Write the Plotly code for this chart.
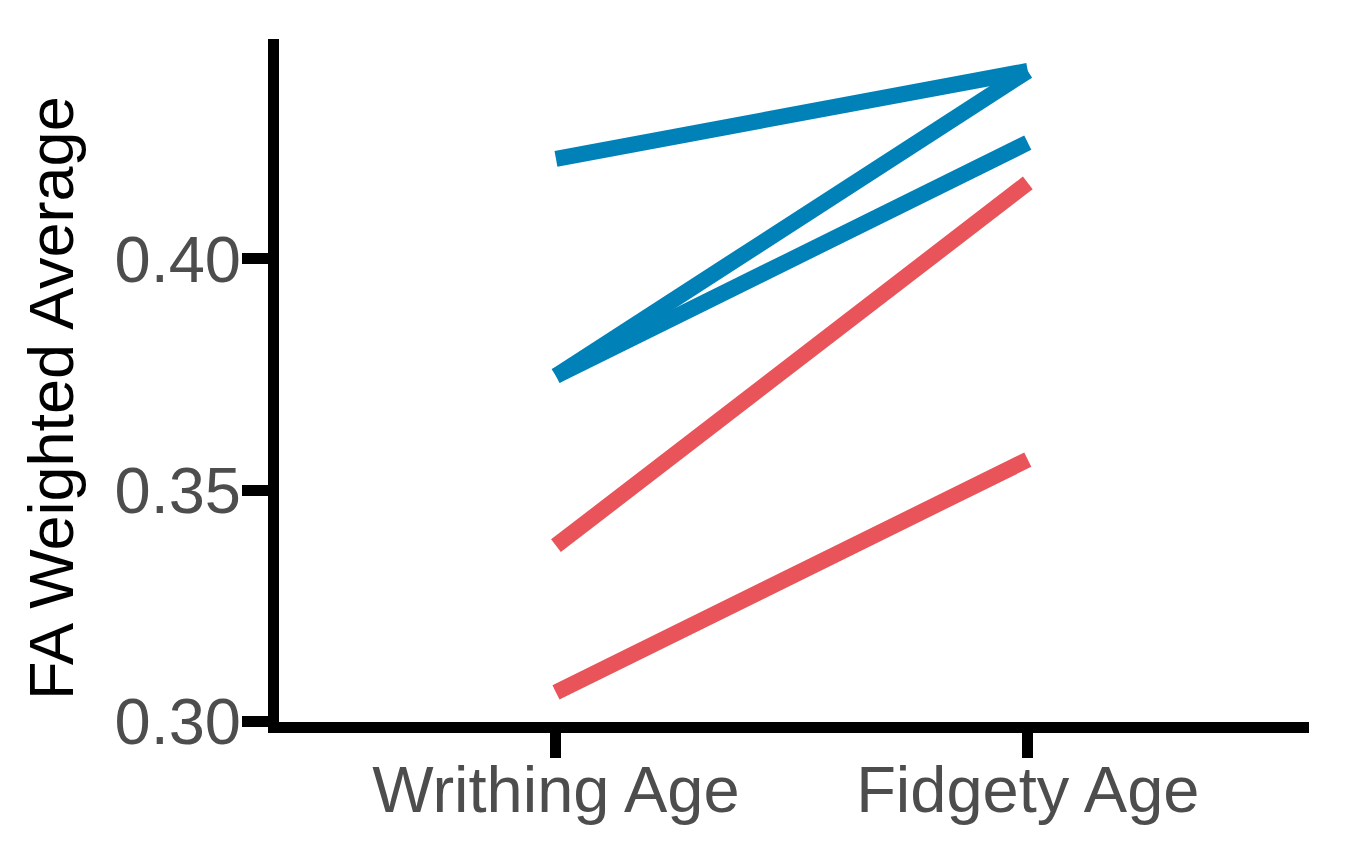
import plotly.graph_objects as go

# paired FA values per subject at two ages
ages = ["Writhing Age", "Fidgety Age"]
writhing = [0.4216, 0.3747, 0.3747, 0.3380, 0.3063]
fidgety = [0.4406, 0.4406, 0.4251, 0.4164, 0.3566]
group = ["g1", "g1", "g1", "g2", "g2"]
y_ticks = [0.30, 0.35, 0.40]

colors = {"g1": "#0082b9", "g2": "#e8545a"}
FONT = "Liberation Sans, Arial, Helvetica, sans-serif"

fig = go.Figure()
for w, f, g in zip(writhing, fidgety, group):
    fig.add_trace(
        go.Scatter(
            x=ages,
            y=[w, f],
            mode="lines",
            line=dict(color=colors[g], width=16),
            showlegend=False,
        )
    )

fig.update_layout(
    width=1349,
    height=868,
    plot_bgcolor="white",
    paper_bgcolor="white",
    margin=dict(l=271, r=48, t=31, b=154),
    font=dict(family=FONT, size=65, color="#4d4d4d"),
)

fig.update_xaxes(
    type="category",
    range=[-0.587, 1.596],
    showgrid=False,
    zeroline=False,
    showline=True,
    linecolor="black",
    linewidth=11,
    ticks="outside",
    ticklen=25,
    tickwidth=11,
    tickcolor="black",
    tickfont=dict(size=65, color="#4d4d4d"),
    ticklabelstandoff=-24,
)

fig.update_yaxes(
    range=[0.2999, 0.4475],
    tickvals=y_ticks,
    ticktext=[f"{v:.2f}" for v in y_ticks],
    showgrid=False,
    zeroline=False,
    showline=True,
    linecolor="black",
    linewidth=11,
    ticks="outside",
    ticklen=26,
    tickwidth=11,
    tickcolor="black",
    tickfont=dict(size=65, color="#4d4d4d"),
    ticklabelstandoff=-12,
)

# y title as annotation so it sits where the reference has it
fig.add_annotation(
    text="FA Weighted Average",
    xref="paper",
    yref="paper",
    x=-0.222,
    y=0.475,
    xanchor="center",
    yanchor="middle",
    textangle=-90,
    showarrow=False,
    font=dict(size=63, color="black", family=FONT),
)

fig.write_html("out.html")
